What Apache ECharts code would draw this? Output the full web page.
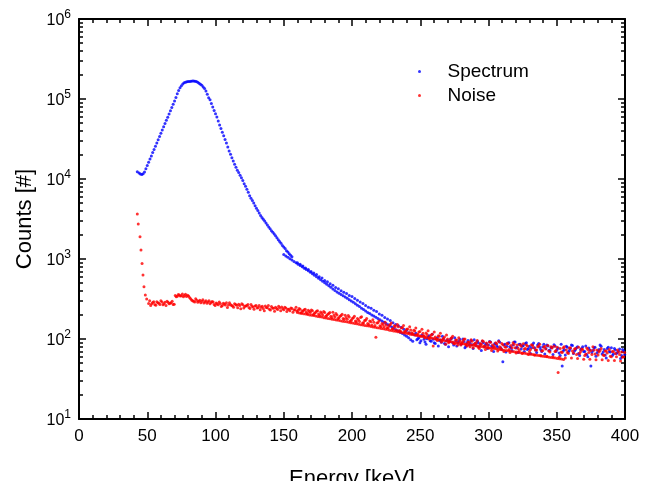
<!DOCTYPE html>
<html>
<head>
<meta charset="utf-8">
<script src="https://cdn.jsdelivr.net/npm/echarts@6.0.0/dist/echarts.min.js"></script>
<style>
  html, body { margin: 0; padding: 0; background: #fff; }
  #chart { width: 649px; height: 481px; }
</style>
</head>
<body>
<div id="chart"></div>
<script>
// energy [keV], counts
const spectrumPeak = [
  [42.7, 12300], [44, 11890], [45, 11540], [46, 11350], [47, 11610], [48, 12250], [49, 13430], [50, 14720],
  [51, 16180], [52, 17740], [53, 19450], [54, 21380], [55, 23440], [56, 25700], [57, 28180], [58, 30900],
  [59, 33880], [60, 37330], [61, 40930], [62, 44870], [63, 49320], [64, 54080], [65, 59290], [66, 65160],
  [67, 71450], [68, 78340], [69, 85900], [70, 94410], [71, 104700], [72, 116100], [73, 127400], [74, 138000],
  [75, 146200], [76, 154200], [77, 159200], [78, 162200], [79, 164100], [80, 165200], [81, 166000], [82, 166700],
  [83, 167500], [84, 167900], [85, 166700], [86, 165200], [87, 162200], [88, 157800], [89, 153100], [90, 148600],
  [91, 141300], [92, 134900], [93, 125900], [94, 114800], [95, 103500], [96, 97720], [97, 88100], [98, 79430],
  [99, 71610], [100, 65310], [101, 59570], [102, 53090], [103, 47320], [104, 42660], [105, 38460], [106, 34670],
  [107, 31260], [108, 28180], [109, 25120], [110, 22390], [111, 20420], [112, 18410], [113, 16790], [114, 15310],
  [115, 14030], [116, 12880], [117, 12020], [118, 11140], [119, 10350], [120, 9550], [121, 8710], [122, 8130],
  [123, 7450], [124, 6840], [125, 6170], [126, 5750], [127, 5370], [128, 5010], [129, 4620], [130, 4320],
  [131, 4030], [132, 3760], [133, 3510], [134, 3310], [135, 3130], [136, 2990], [137, 2820], [138, 2660],
  [139, 2510], [140, 2390], [141, 2260], [142, 2160], [143, 2050], [144, 1950], [145, 1840], [146, 1740],
  [147, 1660], [148, 1570], [149, 1480], [150, 1410], [151, 1350], [152, 1270], [153, 1220], [154, 1160],
  [155, 1110], [156, 1070]
];

const spectrumLine = [
  [150, 1138], [151.5, 1094], [153, 1050], [154.5, 1009], [156, 971], [157.5, 933], [159, 895], [160.5, 861],
  [162, 830], [163.5, 800], [165, 769], [166.5, 741], [168, 713], [169.5, 685], [171, 656], [172.5, 628],
  [174, 601], [175.5, 575], [177, 551], [178.5, 527], [180, 505], [181.5, 483], [183, 462], [184.5, 442],
  [186, 423], [187.5, 405], [189, 387], [190.5, 372], [192, 359], [193.5, 347], [195, 334], [196.5, 322],
  [198, 310], [199.5, 299], [201, 287], [202.5, 275], [204, 264], [205.5, 254], [207, 243], [208.5, 233],
  [210, 224], [211.5, 215], [213, 208], [214.5, 200], [216, 194], [217.5, 187], [219, 180], [220.5, 174],
  [222, 168], [223.5, 162], [225, 156], [226.5, 151], [228, 145], [229.5, 140], [231, 135], [232.5, 130],
  [234, 126], [235.5, 121], [237, 117], [238.5, 112], [240, 108], [241.5, 104], [243, 98], [244.5, 94]
];

const spectrumScatter = [
  [160, 900], [162, 860], [164, 820], [166, 770], [168, 740], [170, 700], [172, 670], [174, 640],
  [176, 600], [178, 580], [180, 540], [182, 520], [184, 490], [186, 470], [188, 440], [190, 425],
  [192, 400], [194, 385], [196, 370], [198, 350], [200, 340], [202, 320], [204, 305], [206, 290],
  [208, 278], [210, 262], [212, 250], [214, 243], [216, 228], [218, 220], [220, 205], [222, 198],
  [224, 186], [226, 178], [228, 170], [230, 160], [232, 152], [234, 146], [236, 140], [238, 132],
  [240, 128], [242, 120], [244, 116],
  [246, 112], [247.5, 98], [249, 104], [250.5, 95], [252, 108], [253.5, 92], [255, 101], [256.5, 110],
  [258, 94], [259.5, 99], [261, 88], [262.5, 104], [264, 96], [265.5, 91], [267, 100], [268.5, 86],
  [270, 97], [271.5, 93], [273, 102], [274.5, 84], [276, 95], [277.5, 90], [279, 99], [280.5, 87],
  [282, 93], [283.5, 81], [285, 96], [286.5, 89], [288, 85], [289.5, 98], [291, 83], [292.5, 90],
  [294, 86], [295.5, 94], [297, 80], [298.5, 88], [300, 84], [301.5, 92], [303, 79], [304.5, 87],
  [306, 83], [307.5, 95], [309, 78], [310.5, 52], [312, 86], [313.5, 81], [315, 90], [316.5, 77],
  [318, 84], [319.5, 92], [321, 79], [322.5, 86], [324, 75], [325.5, 83], [327, 88], [328.5, 74],
  [330, 81], [331.5, 78], [333, 89], [334.5, 73], [336, 84], [337.5, 79], [339, 70], [340.5, 86],
  [342, 76], [343.5, 82], [345, 72], [346.5, 79], [348, 85], [349.5, 70], [351, 77], [352.5, 62],
  [354, 46], [355.5, 74], [357, 81], [358.5, 69], [360, 76], [361.5, 83], [363, 71], [364.5, 78],
  [366, 66], [367.5, 74], [369, 80], [370.5, 70], [372, 64], [373.5, 77], [375, 46], [376.5, 72],
  [378, 79], [379.5, 67], [381, 74], [382.5, 81], [384, 69], [385.5, 63], [387, 76], [388.5, 70],
  [390, 78], [391.5, 65], [393, 73], [394.5, 68], [396, 75], [397.5, 62], [399, 71]
];

const spectrumTail = [
  [246.75, 118], [248.25, 101], [249.75, 90], [251.25, 112], [252.75, 99], [254.25, 86], [255.75, 106], [257.25, 95],
  [258.75, 115], [260.25, 90], [261.75, 100], [263.25, 82], [264.75, 97], [266.25, 108], [267.75, 88], [269.25, 95],
  [270.75, 80], [272.25, 99], [273.75, 90], [275.25, 104], [276.75, 82], [278.25, 93], [279.75, 86], [281.25, 100],
  [282.75, 78], [284.25, 90], [285.75, 84], [287.25, 96], [288.75, 76], [290.25, 88], [291.75, 94], [293.25, 80],
  [294.75, 72], [296.25, 90], [297.75, 84], [299.25, 76], [300.75, 93], [302.25, 82], [303.75, 70], [305.25, 88],
  [306.75, 79], [308.25, 91], [309.75, 74], [311.25, 84], [312.75, 69], [314.25, 89], [315.75, 80], [317.25, 72],
  [318.75, 92], [320.25, 77], [321.75, 68], [323.25, 86], [324.75, 81], [326.25, 70], [327.75, 90], [329.25, 76],
  [330.75, 66], [332.25, 85], [333.75, 78], [335.25, 68], [336.75, 88], [338.25, 74], [339.75, 80], [341.25, 65],
  [342.75, 84], [344.25, 72], [345.75, 78], [347.25, 64], [348.75, 82], [350.25, 74], [351.75, 67], [353.25, 86],
  [354.75, 71], [356.25, 63], [357.75, 79], [359.25, 72], [360.75, 84], [362.25, 66], [363.75, 74], [365.25, 80],
  [366.75, 62], [368.25, 76], [369.75, 70], [371.25, 82], [372.75, 60], [374.25, 73], [375.75, 68], [377.25, 78],
  [378.75, 61], [380.25, 71], [381.75, 84], [383.25, 65], [384.75, 74], [386.25, 58], [387.75, 79], [389.25, 69],
  [390.75, 62], [392.25, 76], [393.75, 66], [395.25, 71], [396.75, 57], [398.25, 74], [399.75, 64]
];

const noiseSpike = [
  [42.7, 3650], [43.4, 2740], [44.7, 1900], [45.4, 1300], [46.2, 880], [46.9, 630], [47.6, 450],
  [48.6, 355], [49.6, 316]
];

const noiseScatter = [
  [51, 278], [52.5, 262], [54, 285], [55.5, 270], [57, 292], [58.5, 280], [60, 300], [61.5, 268],
  [63, 288], [64.5, 296], [66, 275], [67.5, 284], [69, 270], [70.5, 350], [72, 342], [73.5, 356],
  [75, 348], [76.5, 338], [78, 362], [79.5, 352], [81, 330], [82.5, 308], [84, 296], [85.5, 318],
  [87, 288], [88.5, 305], [90, 296], [91.5, 282], [93, 300], [94.5, 290], [96, 276], [97.5, 295],
  [99, 270], [100.5, 282], [102, 268], [103.5, 278], [105, 262], [106.5, 274], [108, 283], [109.5, 266],
  [111, 270], [112.5, 258], [114, 276], [115.5, 264], [117, 272], [118.5, 238], [120, 268], [121.5, 256],
  [123, 262], [124.5, 248], [126, 270], [127.5, 252], [129, 258], [130.5, 244], [132, 262], [133.5, 250],
  [135, 240], [136.5, 258], [138, 246], [139.5, 236], [141, 255], [142.5, 242], [144, 250], [145.5, 234],
  [147, 246], [148.5, 252], [150, 232], [151.5, 244], [153, 236], [154.5, 226], [156, 240], [157.5, 230],
  [159, 250], [160.5, 228], [162, 236], [163.5, 222], [165, 232], [166.5, 218], [168, 228], [169.5, 214],
  [171, 226], [172.5, 210], [174, 222], [175.5, 206], [177, 218], [178.5, 200], [180, 214], [181.5, 196],
  [183, 208], [184.5, 192], [186, 216], [187.5, 188], [189, 200], [190.5, 184], [192, 196], [193.5, 180],
  [195, 198], [196.5, 176], [198, 188], [199.5, 172], [201, 184], [202.5, 168], [204, 180], [205.5, 165],
  [207, 190], [208.5, 160], [210, 172], [211.5, 156], [213, 168], [214.5, 150], [216, 162], [217.5, 105],
  [219, 160], [220.5, 146], [222, 156], [223.5, 142], [225, 150], [226.5, 138], [228, 152], [229.5, 134],
  [231, 146], [232.5, 130], [234, 142], [235.5, 126], [237, 138], [238.5, 124], [240, 132], [241.5, 120],
  [243, 130], [244.5, 116], [246, 126], [247.5, 112], [249, 122], [250.5, 108], [252, 118], [253.5, 104],
  [255, 114], [256.5, 100], [258, 112], [259.5, 82], [261, 106], [262.5, 96], [264, 108], [265.5, 92],
  [267, 102], [268.5, 86], [270, 100], [271.5, 94], [273, 104], [274.5, 88], [276, 97], [277.5, 84],
  [279, 95], [280.5, 90], [282, 99], [283.5, 85], [285, 92], [286.5, 80], [288, 94], [289.5, 86],
  [291, 90], [292.5, 79], [294, 88], [295.5, 95], [297, 82], [298.5, 89], [300, 77], [301.5, 91],
  [303, 84], [304.5, 79], [306, 87], [307.5, 93], [309, 76], [310.5, 85], [312, 80], [313.5, 88],
  [315, 74], [316.5, 83], [318, 90], [319.5, 78], [321, 84], [322.5, 72], [324, 81], [325.5, 87],
  [327, 76], [328.5, 82], [330, 70], [331.5, 85], [333, 78], [334.5, 73], [336, 80], [337.5, 86],
  [339, 71], [340.5, 79], [342, 75], [343.5, 83], [345, 69], [346.5, 77], [348, 81], [349.5, 72],
  [351, 38], [352.5, 76], [354, 68], [355.5, 80], [357, 73], [358.5, 66], [360, 78], [361.5, 71],
  [363, 75], [364.5, 64], [366, 79], [367.5, 70], [369, 74], [370.5, 62], [372, 77], [373.5, 68],
  [375, 72], [376.5, 80], [378, 65], [379.5, 73], [381, 69], [382.5, 76], [384, 63], [385.5, 71],
  [387, 67], [388.5, 74], [390, 60], [391.5, 70], [393, 66], [394.5, 73], [396, 64], [397.5, 69],
  [399, 60]
];

const noiseScatter2 = [
  [51.75, 300], [53.25, 276], [54.75, 292], [56.25, 264], [57.75, 284], [59.25, 270], [60.75, 290], [62.25, 276],
  [63.75, 262], [65.25, 288], [66.75, 280], [68.25, 296], [69.75, 272], [71.25, 338], [72.75, 360], [74.25, 345],
  [75.75, 366], [77.25, 350], [78.75, 340], [80.25, 345], [81.75, 318], [83.25, 300], [84.75, 290], [86.25, 306],
  [87.75, 296], [89.25, 284], [90.75, 310], [92.25, 292], [93.75, 280], [95.25, 300], [96.75, 286],
  [98.25, 290], [99.75, 262], [101.25, 276], [102.75, 290], [104.25, 255], [105.75, 280], [107.25, 266], [108.75, 248],
  [110.25, 284], [111.75, 262], [113.25, 250], [114.75, 270], [116.25, 246], [117.75, 262], [119.25, 275], [120.75, 244],
  [122.25, 258], [123.75, 270], [125.25, 240], [126.75, 256], [128.25, 236], [129.75, 262], [131.25, 248], [132.75, 232],
  [134.25, 256], [135.75, 226], [137.25, 248], [138.75, 262], [140.25, 230], [141.75, 244], [143.25, 222], [144.75, 240],
  [146.25, 256], [147.75, 226], [149.25, 238], [150.75, 250], [152.25, 220], [153.75, 236], [155.25, 244], [156.75, 216],
  [158.25, 232], [159.75, 222], [161.25, 240], [162.75, 212], [164.25, 226], [165.75, 236], [167.25, 208], [168.75, 220],
  [170.25, 230], [171.75, 202], [173.25, 214], [174.75, 226], [176.25, 198], [177.75, 210], [179.25, 220], [180.75, 192],
  [182.25, 204], [183.75, 214], [185.25, 186], [186.75, 198], [188.25, 208], [189.75, 180], [191.25, 192], [192.75, 204],
  [194.25, 176], [195.75, 186], [197.25, 196], [198.75, 168], [200.25, 180], [201.75, 192], [203.25, 164], [204.75, 174],
  [206.25, 186], [207.75, 158], [209.25, 170], [210.75, 180], [212.25, 152], [213.75, 164], [215.25, 174], [216.75, 148],
  [218.25, 158], [219.75, 168], [221.25, 143], [222.75, 152], [224.25, 162], [225.75, 138], [227.25, 148], [228.75, 158],
  [230.25, 134], [231.75, 143], [233.25, 152], [234.75, 128], [236.25, 138], [237.75, 147], [239.25, 124], [240.75, 133],
  [242.25, 142], [243.75, 120], [245.25, 129], [246.75, 137], [248.25, 115], [249.75, 124], [251.25, 132], [252.75, 110],
  [254.25, 119], [255.75, 127], [257.25, 106], [258.75, 115], [260.25, 122], [261.75, 101], [263.25, 110], [264.75, 118],
  [266.25, 98], [267.75, 106], [269.25, 112], [270.75, 90], [272.25, 101], [273.75, 108], [275.25, 87], [276.75, 97],
  [278.25, 104], [279.75, 84], [281.25, 94], [282.75, 100], [284.25, 82], [285.75, 91], [287.25, 98], [288.75, 78],
  [290.25, 88], [291.75, 96], [293.25, 76], [294.75, 86], [296.25, 93], [297.75, 74], [299.25, 84], [300.75, 92],
  [302.25, 72], [303.75, 82], [305.25, 90], [306.75, 71], [308.25, 80], [309.75, 88], [311.25, 70], [312.75, 79],
  [314.25, 87], [315.75, 68], [317.25, 78], [318.75, 86], [320.25, 67], [321.75, 76], [323.25, 85], [324.75, 66],
  [326.25, 75], [327.75, 84], [329.25, 64], [330.75, 74], [332.25, 83], [333.75, 63], [335.25, 73], [336.75, 82],
  [338.25, 62], [339.75, 72], [341.25, 81], [342.75, 61], [344.25, 71], [345.75, 80], [347.25, 60], [348.75, 70],
  [350.25, 79], [351.75, 59], [353.25, 69], [354.75, 78], [356.25, 58], [357.75, 68], [359.25, 77], [360.75, 58],
  [362.25, 67], [363.75, 76], [365.25, 57], [366.75, 66], [368.25, 75], [369.75, 56], [371.25, 65], [372.75, 74],
  [374.25, 56], [375.75, 64], [377.25, 73], [378.75, 55], [380.25, 63], [381.75, 72], [383.25, 55], [384.75, 62],
  [386.25, 71], [387.75, 54], [389.25, 61], [390.75, 70], [392.25, 54], [393.75, 60], [395.25, 69], [396.75, 53],
  [398.25, 59], [399.75, 68]
];

const noiseLine = [
  [160, 215], [161.5, 212], [163, 210], [164.5, 207], [166, 205], [167.5, 203], [169, 200], [170.5, 198],
  [172, 196], [173.5, 194], [175, 191], [176.5, 190], [178, 188], [179.5, 185], [181, 183], [182.5, 181],
  [184, 179], [185.5, 177], [187, 175], [188.5, 173], [190, 171], [191.5, 169], [193, 167], [194.5, 166],
  [196, 164], [197.5, 162], [199, 160], [200.5, 158], [202, 156], [203.5, 155], [205, 153], [206.5, 151],
  [208, 150], [209.5, 148], [211, 146], [212.5, 145], [214, 143], [215.5, 141], [217, 140], [218.5, 138],
  [220, 137], [221.5, 135], [223, 134], [224.5, 132], [226, 131], [227.5, 129], [229, 128], [230.5, 126],
  [232, 125], [233.5, 123], [235, 122], [236.5, 121], [238, 119], [239.5, 118], [241, 117], [242.5, 115],
  [244, 114], [245.5, 113], [247, 111], [248.5, 110], [250, 109], [251.5, 108], [253, 107], [254.5, 105],
  [256, 104], [257.5, 103], [259, 102], [260.5, 101], [262, 99.6], [263.5, 98.5], [265, 97.5], [266.5, 96.4],
  [268, 95.3], [269.5, 94.2], [271, 93.1], [272.5, 92.2], [274, 91.4], [275.5, 90.6], [277, 89.7], [278.5, 88.9],
  [280, 88.1], [281.5, 87.3], [283, 86.5], [284.5, 85.7], [286, 84.9], [287.5, 84.1], [289, 83.4], [290.5, 82.6],
  [292, 81.8], [293.5, 81.1], [295, 80.4], [296.5, 79.6], [298, 78.9], [299.5, 78.2], [301, 77.4], [302.5, 76.7],
  [304, 76.0], [305.5, 75.3], [307, 74.6], [308.5, 74.0], [310, 73.3], [311.5, 72.6], [313, 71.9], [314.5, 71.3],
  [316, 70.6], [317.5, 70.0], [319, 69.3], [320.5, 68.7], [322, 68.1], [323.5, 67.5], [325, 66.8], [326.5, 66.2],
  [328, 65.6], [329.5, 65.0], [331, 64.4], [332.5, 63.8], [334, 63.2], [335.5, 62.7], [337, 62.1], [338.5, 61.5],
  [340, 61.0], [341.5, 60.4], [343, 59.8], [344.5, 59.3], [346, 58.7], [347.5, 58.2], [349, 57.7], [350.5, 57.1],
  [352, 56.6], [353.5, 56.1], [355, 55.6]
];

const yMinorTicks = [
  20, 30, 40, 50, 60, 70, 80, 90,
  200, 300, 400, 500, 600, 700, 800, 900,
  2000, 3000, 4000, 5000, 6000, 7000, 8000, 9000,
  20000, 30000, 40000, 50000, 60000, 70000, 80000, 90000,
  200000, 300000, 400000, 500000, 600000, 700000, 800000, 900000
];

const font = 'Liberation Sans, Arial, sans-serif';
const chart = echarts.init(document.getElementById('chart'));

const xBase = {
  type: 'value', min: 0, max: 400, interval: 50,
  splitLine: { show: false },
  axisLine: { show: true, lineStyle: { color: '#000', width: 2 } },
  axisTick: { show: true, inside: true, length: 7, lineStyle: { color: '#000', width: 1.5 } },
  minorTick: { show: true, splitNumber: 5, length: 4, lineStyle: { color: '#000', width: 1.5 } }
};

const yBase = {
  type: 'log', logBase: 10, min: 10, max: 1000000,
  splitLine: { show: false },
  minorSplitLine: { show: false }
};

function yMajor(position, labels) {
  return Object.assign({}, yBase, {
    position: position,
    axisLine: { show: true, lineStyle: { color: '#000', width: 2 } },
    axisTick: { show: true, inside: true, length: 7, lineStyle: { color: '#000', width: 1.5 } },
    axisLabel: labels ? {
      show: true, margin: 8,
      formatter: function (v) {
        return '{b|10}{e|' + Math.round(Math.log10(v)) + '}';
      },
      rich: {
        b: { fontSize: 16, fontFamily: font, color: '#000', verticalAlign: 'bottom', padding: [4, 0, 0, 0] },
        e: { fontSize: 12, fontFamily: font, color: '#000', verticalAlign: 'bottom', padding: [0, 0, 8, 0] }
      }
    } : { show: false }
  });
}

function yMinor(position) {
  return Object.assign({}, yBase, {
    position: position,
    axisLine: { show: false },
    axisLabel: { show: false },
    axisTick: { show: true, inside: true, length: 4, customValues: yMinorTicks, lineStyle: { color: '#000', width: 1.5 } }
  });
}

function dots(name, data, color) {
  return {
    name: name, type: 'scatter', data: data,
    symbol: 'circle', symbolSize: 3,
    itemStyle: { color: color },
    xAxisIndex: 0, yAxisIndex: 0
  };
}

const option = {
  animation: false,
  backgroundColor: '#fff',
  grid: { left: 79, right: 24, top: 19, bottom: 62, outerBoundsMode: 'none' },
  legend: {
    orient: 'vertical', left: 413, top: 57,
    itemWidth: 46, itemHeight: 3, itemGap: 5,
    icon: 'circle',
    textStyle: { fontSize: 19, fontFamily: font, color: '#000' },
    data: ['Spectrum', 'Noise']
  },
  xAxis: [
    Object.assign({}, xBase, {
      position: 'bottom',
      name: 'Energy [keV]', nameLocation: 'middle', nameGap: 49,
      nameTextStyle: { fontSize: 22, fontFamily: font, color: '#000' },
      axisLabel: { show: true, margin: 9, fontSize: 17, fontFamily: font, color: '#000' }
    }),
    Object.assign({}, xBase, { position: 'top', axisLabel: { show: false } })
  ],
  yAxis: [
    Object.assign(yMajor('left', true), {
      name: 'Counts [#]', nameLocation: 'middle', nameGap: 41,
      nameTextStyle: { fontSize: 22, fontFamily: font, color: '#000' }
    }),
    yMinor('left'),
    yMajor('right', false),
    yMinor('right')
  ],
  series: [
    dots('Spectrum', spectrumPeak, '#0000ff'),
    dots('Spectrum', spectrumLine, '#0000ff'),
    dots('Spectrum', spectrumScatter, '#0000ff'),
    dots('Spectrum', spectrumTail, '#0000ff'),
    dots('Noise', noiseSpike, '#ff0000'),
    dots('Noise', noiseScatter, '#ff0000'),
    dots('Noise', noiseScatter2, '#ff0000'),
    dots('Noise', noiseLine, '#ff0000')
  ]
};

chart.setOption(option);
</script>
</body>
</html>
